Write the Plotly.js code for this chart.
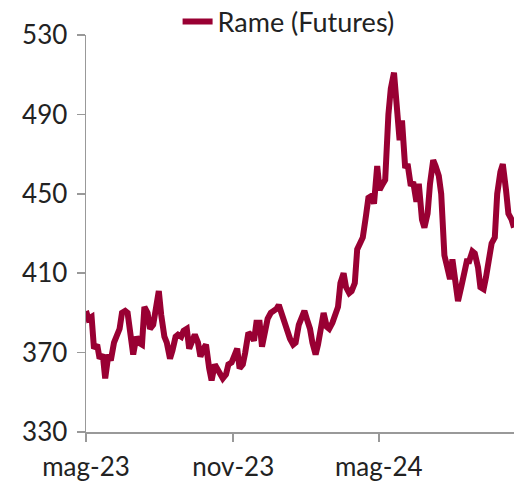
<!DOCTYPE html>
<html>
<head>
<meta charset="utf-8">
<script src="https://cdn.plot.ly/plotly-3.0.1.min.js"></script>
<style>html,body{margin:0;padding:0;background:#fff;}#chart{width:514px;height:482px;}</style>
</head>
<body>
<div id="chart"></div>
<script>
const seriesName = 'Rame (Futures)';
const dates = [
'2023-05-01','2023-05-04','2023-05-08','2023-05-11','2023-05-15','2023-05-18','2023-05-22','2023-05-25','2023-05-29','2023-06-01',
'2023-06-05','2023-06-08','2023-06-12','2023-06-15','2023-06-19','2023-06-22','2023-06-26','2023-06-29','2023-07-03','2023-07-06',
'2023-07-10','2023-07-13','2023-07-17','2023-07-20','2023-07-24','2023-07-27','2023-07-31','2023-08-03','2023-08-07','2023-08-10',
'2023-08-14','2023-08-17','2023-08-21','2023-08-24','2023-08-28','2023-08-31','2023-09-04','2023-09-07','2023-09-11','2023-09-14',
'2023-09-18','2023-09-21','2023-09-25','2023-09-28','2023-10-02','2023-10-05','2023-10-09','2023-10-12','2023-10-16','2023-10-19',
'2023-10-23','2023-10-26','2023-10-30','2023-11-02','2023-11-06','2023-11-09','2023-11-13','2023-11-16','2023-11-20','2023-11-23',
'2023-11-27','2023-11-30','2023-12-04','2023-12-07','2023-12-11','2023-12-14','2023-12-18','2023-12-21','2023-12-25','2023-12-28',
'2024-01-01','2024-01-04','2024-01-08','2024-01-11','2024-01-15','2024-01-18','2024-01-22','2024-01-25','2024-01-29','2024-02-01',
'2024-02-05','2024-02-08','2024-02-12','2024-02-15','2024-02-19','2024-02-22','2024-02-26','2024-02-29','2024-03-04','2024-03-07',
'2024-03-11','2024-03-14','2024-03-18','2024-03-21','2024-03-25','2024-03-28','2024-04-01','2024-04-04','2024-04-08','2024-04-11',
'2024-04-15','2024-04-18','2024-04-22','2024-04-25','2024-04-29','2024-05-02','2024-05-06','2024-05-09','2024-05-13','2024-05-16',
'2024-05-20','2024-05-23','2024-05-27','2024-05-30','2024-06-03','2024-06-06','2024-06-10','2024-06-13','2024-06-17','2024-06-20',
'2024-06-24','2024-06-27','2024-07-01','2024-07-04','2024-07-08','2024-07-11','2024-07-15','2024-07-18','2024-07-22','2024-07-25',
'2024-07-29','2024-08-01','2024-08-05','2024-08-08','2024-08-12','2024-08-15','2024-08-19','2024-08-22','2024-08-26','2024-08-29',
'2024-09-02','2024-09-05','2024-09-09','2024-09-12','2024-09-16','2024-09-19','2024-09-23','2024-09-26','2024-09-30','2024-10-03',
'2024-10-07','2024-10-10','2024-10-14','2024-10-17'
];
const values = [
391,387,388,372,374,367,369,357,369,366,
375,378,382,390,391,390,378,369,378,375,
374,393,390,382,384,391,401,389,378,375,
367,371,378,379,378,381,382,372,376,379,
375,368,372,374,362,356,364,362,359,357,
359,364,365,368,372,362,364,370,380,379,
376,385,385,373,382,387,390,391,392,394,
389,385,379,377,374,375,384,388,391,387,
382,375,369,374,386,390,383,382,385,389,
393,405,410,403,400,401,405,422,426,428,
439,448,449,445,464,452,455,457,490,503,
511,492,477,487,463,465,454,456,446,455,
437,433,440,455,467,464,459,450,419,414,
407,417,404,396,403,410,416,416,421,420,
413,403,402,408,418,425,428,450,461,465,
452,440,437,433
];
const tickVals = ['2023-05-01','2023-11-01','2024-05-01'];
const tickText = ['mag-23','nov-23','mag-24'];
const yTicks = [330,370,410,450,490,530];

const fam = 'Lato, "Open Sans", sans-serif';
Plotly.newPlot('chart', [{
  x: dates, y: values, type:'scatter', mode:'lines', name: seriesName,
  line:{color:'#990033', width:6}
}], {
  width:514, height:482,
  margin:{l:86, r:0, t:35, b:50, pad:0, autoexpand:false},
  paper_bgcolor:'#fff', plot_bgcolor:'#fff',
  font:{family:fam, size:26, color:'#222'},
  showlegend:true,
  legend:{orientation:'h', x:0.214, xanchor:'left', y:1.033, yanchor:'middle',
    font:{family:fam, size:27, color:'#222'}, bgcolor:'rgba(0,0,0,0)'},
  xaxis:{type:'date', range:['2023-05-01','2024-10-17'], tickvals:tickVals, ticktext:tickText,
    ticks:'outside', ticklen:8, tickcolor:'#999', tickwidth:1.5, showline:true, linecolor:'#999', linewidth:1.5,
    showgrid:false, zeroline:false, ticklabelstandoff:3, tickfont:{family:fam, size:26, color:'#222'}},
  yaxis:{range:[330,530], tickvals:yTicks, ticks:'outside', ticklen:8, tickcolor:'#999', tickwidth:1.5,
    showline:true, linecolor:'#999', linewidth:1.5, showgrid:false, zeroline:false, ticklabelstandoff:4,
    tickfont:{family:fam, size:26, color:'#222'}}
}, {displayModeBar:false, staticPlot:true});
</script>
</body>
</html>
